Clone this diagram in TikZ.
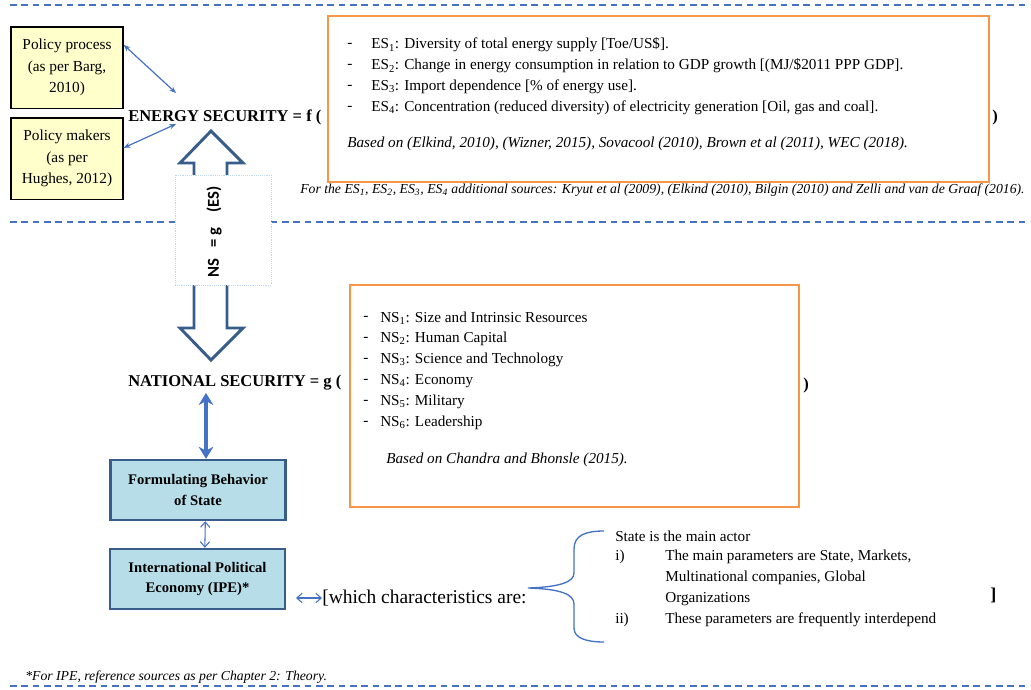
\documentclass[tikz,border=0pt]{standalone}
\usepackage{fontspec}
\setmainfont{Liberation Serif}
\newfontfamily\nsfont{Carlito}
\usetikzlibrary{positioning, arrows.meta}

\definecolor{lineblue}{HTML}{4472C4}
\definecolor{boxorange}{HTML}{F79646}
\definecolor{shaftblue}{HTML}{385D8A}
\definecolor{noteyellow}{HTML}{FFFFCC}
\definecolor{statefill}{HTML}{B7DEE8}
\definecolor{dotblue}{HTML}{BDD7EE}

\begin{document}
\begin{tikzpicture}[x=0.75pt, y=-0.75pt]
\tikzset{
  pagerule/.style={lineblue, line width=1pt, dash pattern=on 5pt off 3.5pt},
  listbox/.style={draw=boxorange, line width=2.2pt, fill=white},
  refbox/.style={draw=black, fill=noteyellow, line width=1pt, minimum width=84pt,
    minimum height=61pt, inner sep=1pt, align=center, font=\fontsize{11.5}{16}\selectfont},
  statebox/.style={draw=shaftblue, fill=statefill, line width=1.8pt, minimum width=131pt,
    minimum height=45pt, align=center, font=\bfseries\fontsize{11}{15.5}\selectfont},
  listitem/.style={anchor=west, inner sep=0pt, font=\fontsize{11.4}{13}\selectfont},
  eqlabel/.style={anchor=west, inner sep=0pt, font=\bfseries\fontsize{12.4}{14}\selectfont},
  srcnote/.style={anchor=west, inner sep=0pt, font=\itshape\fontsize{10.3}{12}\selectfont},
  thinlink/.style={lineblue, line width=0.9pt, {Stealth[length=5pt,width=4pt]}-{Stealth[length=5pt,width=4pt]}},
  thicklink/.style={lineblue, line width=3pt, {Stealth[length=9pt,width=11pt]}-{Stealth[length=9pt,width=11pt]}},
  openlink/.style={lineblue, line width=0.8pt, {Straight Barb[length=4pt,width=7pt]}-{Straight Barb[length=4pt,width=7pt]}},
}
\useasboundingbox (0,0) rectangle (1031,689);

% page rules
\draw[pagerule] (10,5) -- (1030,5);
\draw[pagerule] (10,222) -- (1030,222);
\draw[pagerule] (10,686) -- (1030,686);

% references on the left
\node[refbox] (barg) at (67,67.5) {Policy process\\(as per Barg,\\2010)};
\node[refbox] (hughes) at (67,158.5) {Policy makers\\(as per\\Hughes, 2012)};

\node[eqlabel] (es) at (128,117) {ENERGY SECURITY = f (};
\node[eqlabel] (esclose) at (992,118) {)};
\coordinate (esup) at (176,93);
\coordinate (esdown) at (176,124);
\draw[thinlink] ([yshift=17pt]barg.east) -- (esup);
\draw[thinlink] ([yshift=8pt]hughes.east) -- (esdown);

% energy security indicators
\draw[listbox] (328,16) rectangle (989,182);
\node[listitem] (esd1) at (347,45) {-};
\node[listitem] (es1) at (371,45) {ES\textsubscript{1}: Diversity of total energy supply [Toe/US\$].};
\node[listitem] (esd2) at (347,66) {-};
\node[listitem] (es2) at (371,66) {ES\textsubscript{2}: Change in energy consumption in relation to GDP growth [(MJ/\$2011 PPP GDP].};
\node[listitem] (esd3) at (347,87) {-};
\node[listitem] (es3) at (371,87) {ES\textsubscript{3}: Import dependence [\% of energy use].};
\node[listitem] (esd4) at (347,108) {-};
\node[listitem] (es4) at (371,108) {ES\textsubscript{4}: Concentration (reduced diversity) of electricity generation [Oil, gas and coal].};
\node[listitem, font=\itshape\fontsize{11.4}{13}\selectfont] (esbased) at (347,144)
  {Based on (Elkind, 2010), (Wizner, 2015), Sovacool (2010), Brown et al (2011), WEC (2018).};
\node[srcnote] (esnote) at (300,190) {For the ES\textsubscript{1}, ES\textsubscript{2}, ES\textsubscript{3}, ES\textsubscript{4} additional sources: Kryut et al (2009), (Elkind (2010), Bilgin (2010) and Zelli and van de Graaf (2016).};

% block arrow between the two securities
\draw[shaftblue, line width=2.2pt, fill=white]
  (211,131) -- (243,163) -- (227,163) -- (227,328) -- (243,328) -- (211,360)
  -- (180,328) -- (194,328) -- (194,163) -- (180,163) -- cycle;
\node[draw=dotblue, densely dotted, fill=white, minimum width=72pt, minimum height=82.5pt] (nsbox) at (223,230) {};
\node[rotate=90, font=\nsfont\bfseries\fontsize{12.5}{14}\selectfont] (nsfun) at (214,232) {NS\ \ \ =\ g\ \ \ \ (ES)};

% national security indicators
\node[eqlabel] (ns) at (128,383) {NATIONAL SECURITY = g (};
\node[eqlabel] (nsclose) at (803,386) {)};
\draw[listbox] (350,285) rectangle (799,507);
\node[listitem] (nsd1) at (363,318) {-};
\node[listitem] (ns1) at (380,318) {NS\textsubscript{1}: Size and Intrinsic Resources};
\node[listitem] (nsd2) at (363,339) {-};
\node[listitem] (ns2) at (380,339) {NS\textsubscript{2}: Human Capital};
\node[listitem] (nsd3) at (363,360) {-};
\node[listitem] (ns3) at (380,360) {NS\textsubscript{3}: Science and Technology};
\node[listitem] (nsd4) at (363,381) {-};
\node[listitem] (ns4) at (380,381) {NS\textsubscript{4}: Economy};
\node[listitem] (nsd5) at (363,402) {-};
\node[listitem] (ns5) at (380,402) {NS\textsubscript{5}: Military};
\node[listitem] (nsd6) at (363,423) {-};
\node[listitem] (ns6) at (380,423) {NS\textsubscript{6}: Leadership};
\node[listitem, font=\itshape\fontsize{11.4}{13}\selectfont] (nsbased) at (386,460) {Based on Chandra and Bhonsle (2015).};

% state and IPE
\node[statebox] (state) at (198,490) {Formulating Behavior\\of State};
\node[statebox] (ipe) at (197.5,579) {International Political\\Economy (IPE)*};
\draw[thicklink] ([xshift=6pt]state.north) -- ([xshift=6pt]state.north |- 0,393);
\draw[openlink] ([xshift=5.5pt]state.south) -- ([xshift=5.5pt]ipe.north);

\node[anchor=west, inner sep=0pt, font=\fontsize{14.6}{17}\selectfont] (which) at (322,598) {[which characteristics are:};
\coordinate (ipeout) at (296,598);
\draw[openlink] (ipeout) -- (which.west);

\draw[lineblue, line width=1pt]
  (604,531) .. controls (586,531) and (574,535) .. (574,549) -- (574,573)
  .. controls (574,582) and (560,587) .. (528,588)
  .. controls (560,589) and (574,594) .. (574,604) -- (574,628)
  .. controls (574,638) and (586,642) .. (604,642);

\node[listitem] (actor) at (615,536) {State is the main actor};
\node[listitem] (ci) at (615,557) {i)};
\node[listitem] (c1a) at (665,557) {The main parameters are State, Markets,};
\node[listitem] (c1b) at (665,578) {Multinational companies, Global};
\node[listitem] (c1c) at (665,599) {Organizations};
\node[listitem] (cii) at (615,620) {ii)};
\node[listitem] (c2) at (665,620) {These parameters are frequently interdepend};
\node[eqlabel, font=\bfseries\fontsize{13.5}{15}\selectfont] (whichclose) at (990,595) {]};

\node[srcnote] (ipenote) at (25,677) {*For IPE, reference sources as per Chapter 2: Theory.};
\end{tikzpicture}
\end{document}
